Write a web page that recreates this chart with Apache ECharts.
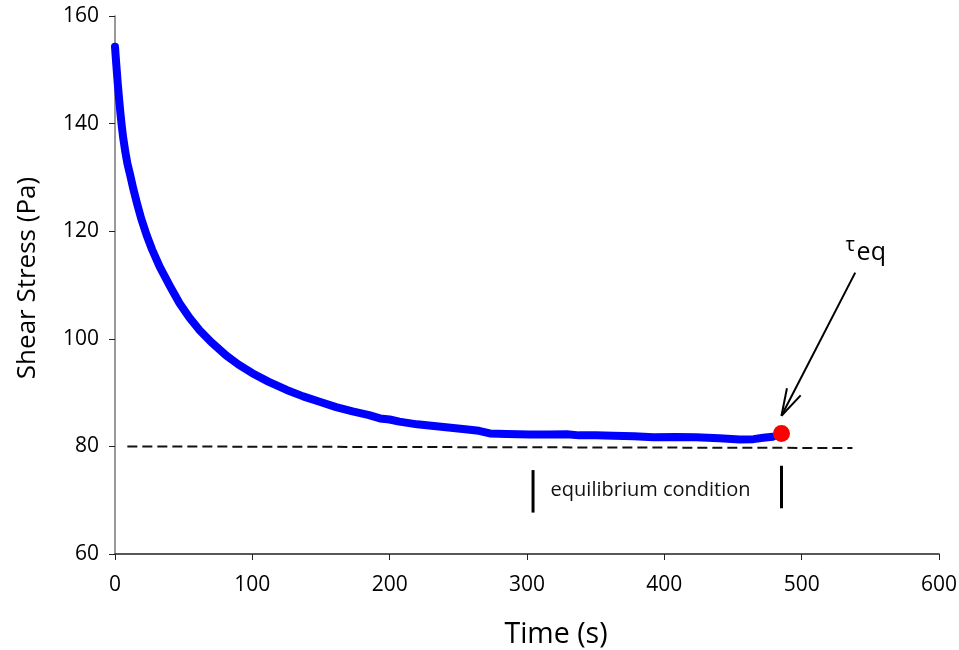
<!DOCTYPE html>
<html>
<head>
<meta charset="utf-8">
<script src="https://cdn.jsdelivr.net/npm/echarts@6/dist/echarts.min.js"></script>
<style>
html,body{margin:0;padding:0;background:#fff;}
#chart{width:959px;height:650px;}
</style>
</head>
<body>
<div id="chart"></div>
<script>
// ---- data ----
const timeS = [0, 0.5, 1, 1.5, 2, 3, 4, 5, 6, 7.5, 9, 11, 13.5, 16, 19, 23, 27, 32.5, 40, 47, 54, 61.6, 70, 81, 90, 100, 112, 125, 137, 149, 161, 173, 185, 193, 200, 207, 220, 241, 255, 265, 273, 285, 302, 315, 329, 338, 350, 363, 378, 392, 408, 423, 440, 455, 465, 472, 479];
const shearStress = [154.3, 152.5, 150.8, 149.1, 147.5, 144.5, 141.8, 139.4, 137.3, 134.8, 132.6, 130.5, 127.7, 125.2, 122.4, 119.3, 116.6, 113.4, 109.8, 106.6, 104, 101.6, 99.4, 96.9, 95.2, 93.6, 92.0, 90.5, 89.3, 88.3, 87.3, 86.5, 85.8, 85.2, 85.0, 84.6, 84.1, 83.55, 83.2, 82.9, 82.4, 82.3, 82.2, 82.2, 82.25, 82.05, 82.05, 82.0, 81.9, 81.7, 81.75, 81.7, 81.5, 81.3, 81.35, 81.6, 81.8];
const equilibriumPoint = [485.3, 82.4];
const baselineTime = [9, 537];
const baselineStress = [80, 79.7];
const eqBarTimes = [304.4, 485.3];
const eqBarTop = [75.6, 76.4];
const eqBarBottom = [67.7, 68.5];
const eqLabel = {text: 'equilibrium condition', t: 390, s: 71.9};
const arrowTail = [539, 112.3];
const arrowTip = [485.3, 85.7];
const tauLabel = {t: 535.3, s: 117.4};
const eqSubLabel = {t: 540, s: 115.9};
const xTicks = {min: 0, max: 600, interval: 100};
const yTicks = {min: 60, max: 160, interval: 20};

const FONT = '"Open Sans", "Noto Sans", sans-serif';
const curveData = timeS.map((t, i) => [t, shearStress[i]]);
const baselineData = baselineTime.map((t, i) => [t, baselineStress[i]]);

const chart = echarts.init(document.getElementById('chart'), null, {renderer: 'canvas'});

function renderAnnotations(params, api) {
  const children = [];
  for (let i = 0; i < eqBarTimes.length; i++) {
    const p1 = api.coord([eqBarTimes[i], eqBarTop[i]]);
    const p2 = api.coord([eqBarTimes[i], eqBarBottom[i]]);
    children.push({type: 'line', shape: {x1: p1[0], y1: p1[1], x2: p2[0], y2: p2[1]},
      style: {stroke: '#000', lineWidth: 3}});
  }
  const lp = api.coord([eqLabel.t, eqLabel.s]);
  children.push({type: 'text', x: lp[0], y: lp[1],
    style: {text: eqLabel.text, font: '20px ' + FONT, fill: '#111', align: 'center', verticalAlign: 'middle'}});
  const a = api.coord(arrowTail), b = api.coord(arrowTip);
  children.push({type: 'line', shape: {x1: a[0], y1: a[1], x2: b[0], y2: b[1]},
    style: {stroke: '#000', lineWidth: 2}});
  const ang = Math.atan2(a[1] - b[1], a[0] - b[0]);
  const L = 28, half = 16 * Math.PI / 180;
  [ang - half, ang + half].forEach(function (w) {
    children.push({type: 'line', shape: {x1: b[0], y1: b[1], x2: b[0] + L * Math.cos(w), y2: b[1] + L * Math.sin(w)},
      style: {stroke: '#000', lineWidth: 2}});
  });
  const tp = api.coord([tauLabel.t, tauLabel.s]);
  children.push({type: 'text', x: tp[0], y: tp[1],
    style: {text: 'τ', font: '20px ' + FONT, fill: '#000', align: 'center', verticalAlign: 'middle'}});
  const ep = api.coord([eqSubLabel.t, eqSubLabel.s]);
  children.push({type: 'text', x: ep[0], y: ep[1],
    style: {text: 'eq', font: '25px ' + FONT, fill: '#000', align: 'left', verticalAlign: 'middle'}});
  return {type: 'group', children: children};
}

chart.setOption({
  animation: false,
  backgroundColor: '#fff',
  grid: {left: 115, right: 20, top: 16, bottom: 96, containLabel: false, outerBoundsMode: 'none'},
  xAxis: {
    type: 'value', min: xTicks.min, max: xTicks.max, interval: xTicks.interval,
    name: 'Time (s)', nameLocation: 'middle', nameGap: 66,
    nameTextStyle: {fontFamily: FONT, fontSize: 28.5, color: '#000', padding: [0, 0, 0, 58]},
    axisLine: {show: true, onZero: false, lineStyle: {color: '#222', width: 1.5}},
    axisTick: {show: true, inside: false, length: 6, lineStyle: {color: '#222'}},
    axisLabel: {fontFamily: FONT, fontSize: 21, color: '#000', margin: 21},
    splitLine: {show: false}
  },
  yAxis: {
    type: 'value', min: yTicks.min, max: yTicks.max, interval: yTicks.interval,
    name: 'Shear Stress (Pa)', nameLocation: 'middle', nameGap: 74, nameRotate: 90,
    nameTextStyle: {fontFamily: FONT, fontSize: 26, color: '#000', padding: [0, 0, 0, 14]},
    axisLine: {show: true, onZero: false, lineStyle: {color: '#777', width: 1.5}},
    axisTick: {show: true, inside: false, length: 6, lineStyle: {color: '#222'}},
    axisLabel: {fontFamily: FONT, fontSize: 21, color: '#000', margin: 16, padding: [5, 0, 0, 0]},
    splitLine: {show: false}
  },
  series: [
    {
      type: 'line', name: 'baseline', data: baselineData, showSymbol: false, symbol: 'none',
      lineStyle: {color: '#111', width: 2, type: [10, 5]}, z: 1, silent: true
    },
    {
      type: 'line', name: 'Shear stress', data: curveData, showSymbol: false, symbol: 'none',
      smooth: false,
      lineStyle: {color: '#0000FF', width: 8, cap: 'round', join: 'round'}, z: 2
    },
    {
      type: 'scatter', name: 'tau_eq', data: [equilibriumPoint], symbolSize: 17,
      itemStyle: {color: '#FF0000', opacity: 1}, z: 3
    },
    {
      type: 'custom', name: 'annotations', data: [[0, 0]], renderItem: renderAnnotations, z: 4, silent: true,
      clip: false
    }
  ]
});
</script>
</body>
</html>
